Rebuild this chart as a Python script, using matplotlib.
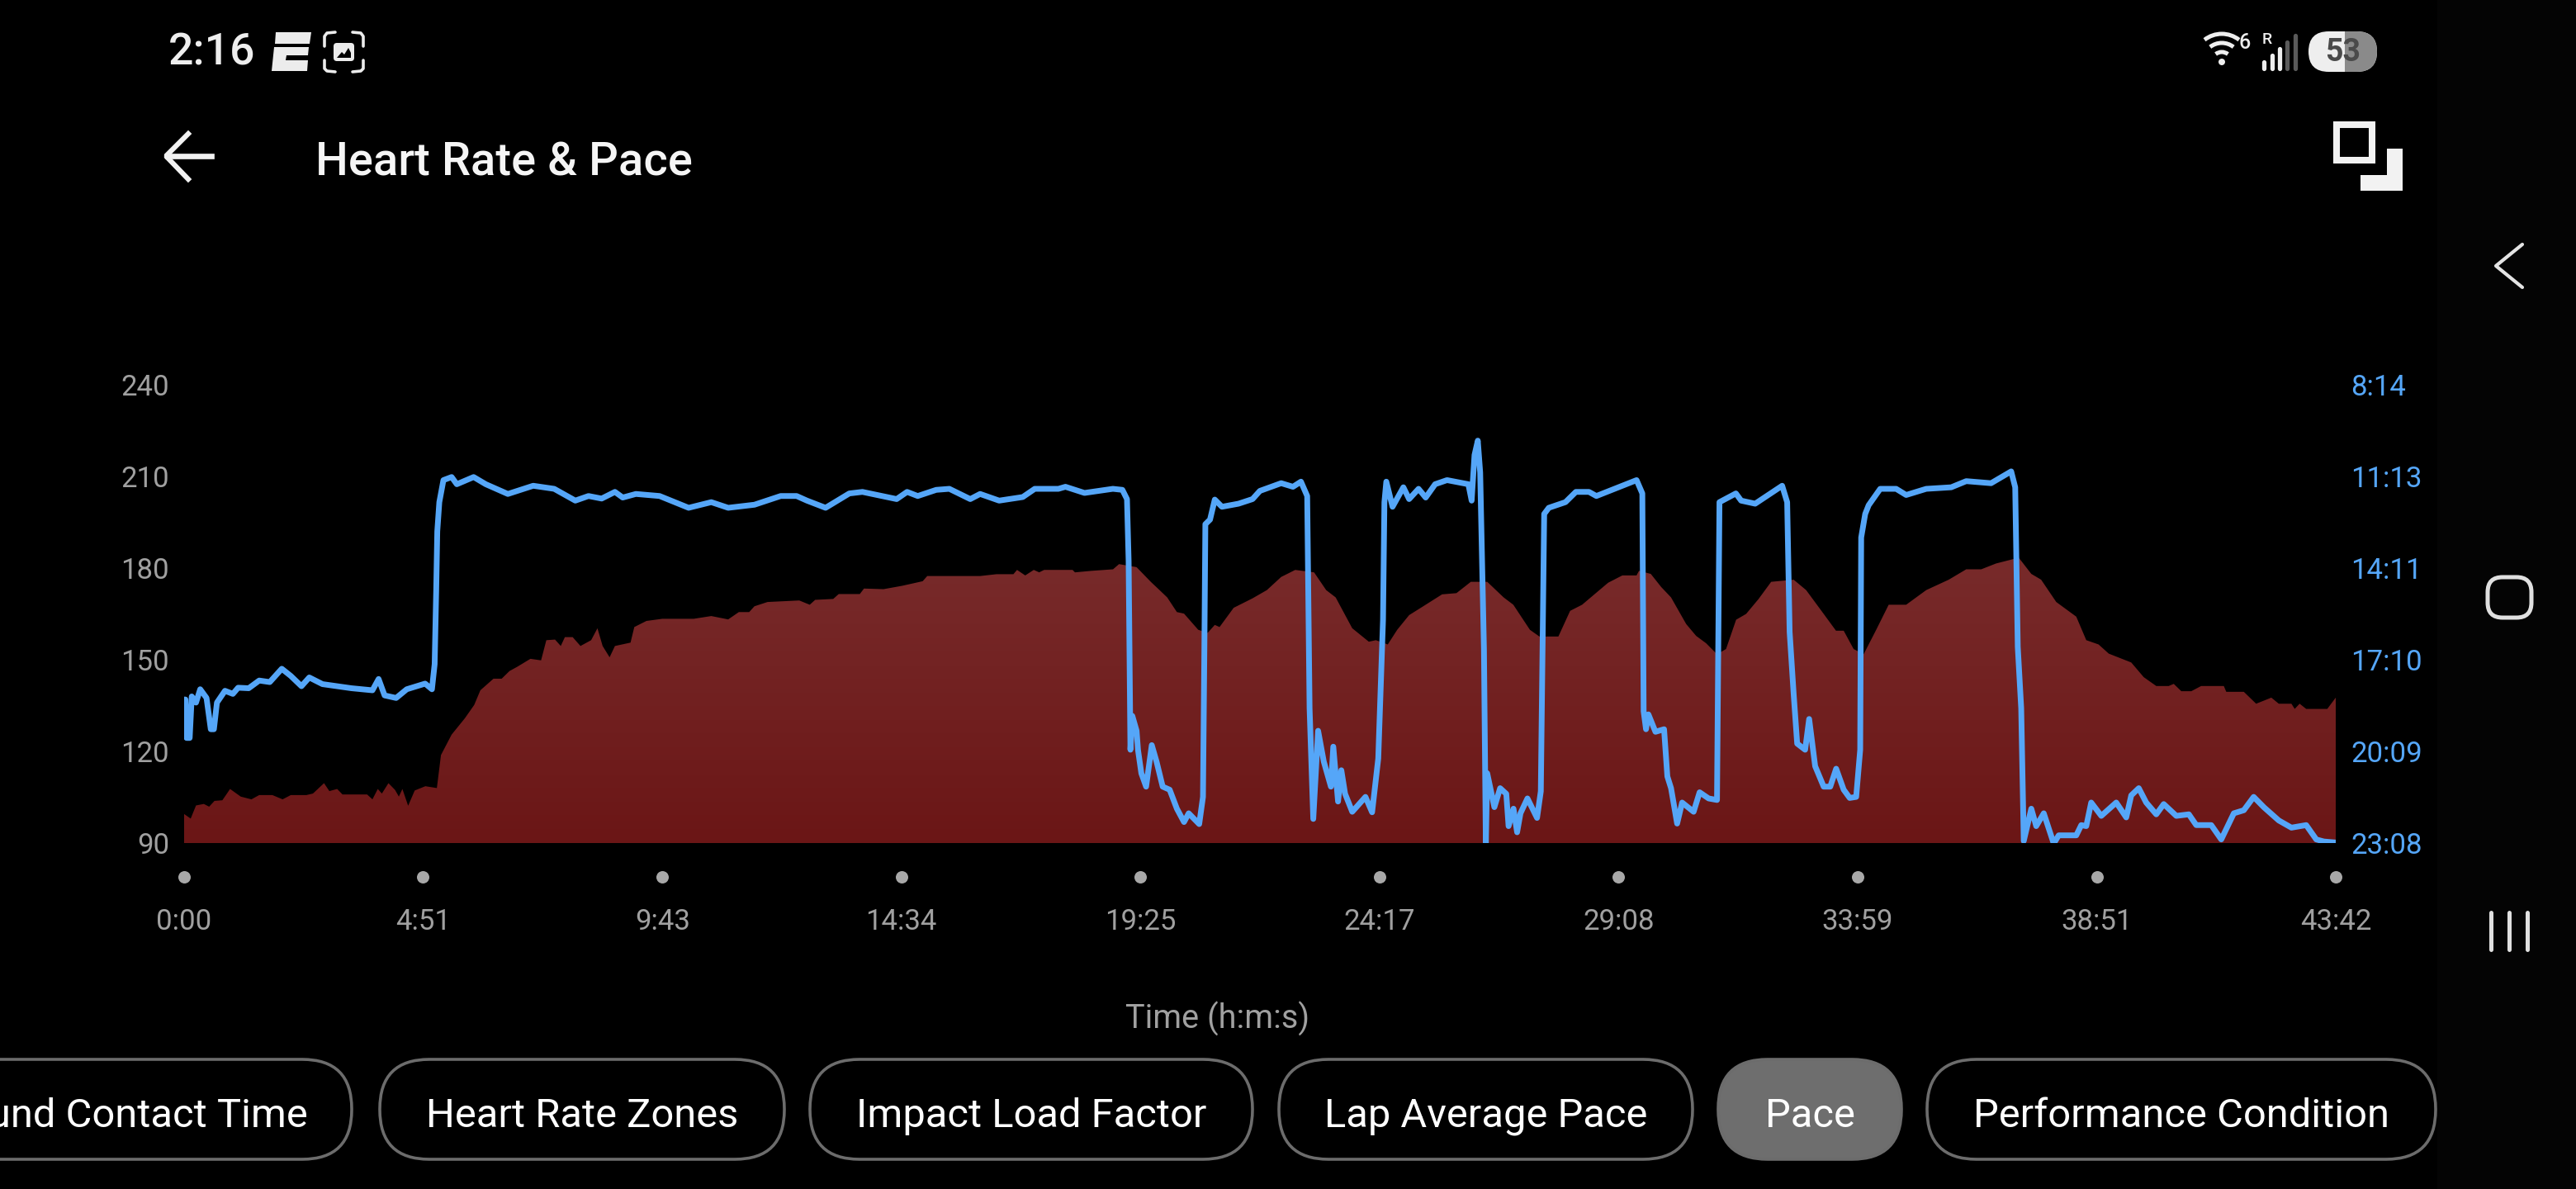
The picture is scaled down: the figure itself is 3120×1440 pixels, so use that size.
import numpy as np
import matplotlib
matplotlib.use("Agg")
import matplotlib.pyplot as plt
from matplotlib.patches import FancyBboxPatch, Polygon, Arc, Rectangle, Circle

plt.rcParams['font.family'] = ['Roboto', 'DejaVu Sans']

# heart rate (seconds, bpm)
hr_time = [0, 8, 14.5, 24, 30.5, 37, 46.6, 56, 69, 82, 91.5, 107.6, 120, 130, 149, 157, 170.5, 177, 186.5, 193,
           223, 229.5, 236, 241, 249, 257, 261.7, 266, 273, 281, 294, 308, 313, 326, 342, 353.5, 361, 377, 387, 396.5,
           406, 422, 435, 441.4, 452, 459, 464, 473.5, 483, 496, 503.7, 510, 518.5, 525, 544, 548.6, 563.4, 582.7, 621, 642.4,
           663, 676, 688.6, 695, 711, 749.6, 762.4, 769, 791, 797.7, 823.4, 828.5, 852.3, 875, 900, 905.6, 963,
           970, 990, 1010.6, 1015, 1025, 1035.4, 1042, 1048, 1082.7, 1085.6, 1105.9, 1132, 1139.3, 1160.7, 1178, 1186.7, 1198, 1209.8, 1218.5,
           1235.8, 1247.3, 1256, 1261.8, 1279, 1302, 1319.5, 1336.9, 1354, 1377, 1391.7, 1403.3, 1423.5, 1443.7, 1452.3, 1466.8, 1478.3, 1492.8,
           1510, 1533, 1550.5, 1568, 1588, 1608, 1619.8, 1640, 1651.6, 1674.7, 1689, 1703.6, 1735.3, 1752.7, 1770, 1772.9, 1787.3,
           1800, 1812, 1830.4, 1842.6, 1854.7, 1868, 1879, 1891.3, 1903.5, 1918.7, 1934, 1961.4, 1976.6, 1998, 2013, 2022.4, 2034.5, 2046.7,
           2062, 2077.2, 2098.5, 2123, 2150.4, 2171.7, 2190, 2208, 2235.7, 2251, 2263, 2281.4, 2305.8, 2318, 2333, 2345.4, 2372.8, 2388,
           2403.3, 2418.5, 2424.6, 2433.8, 2446, 2458, 2485.6, 2488.6, 2510, 2525, 2534.3, 2543.5, 2552.6, 2568, 2572, 2578, 2586, 2611.7, 2622]
hr_bpm = [99.5, 98, 102.3, 102.8, 101.9, 103.8, 104, 107.7, 105.2, 104.3, 105.7, 105.7, 104.3, 105.7, 105.7, 106.2, 109.6, 107, 107.7, 105.9,
          105.9, 104.3, 107.7, 106.2, 109.6, 107.4, 105.2, 107.7, 102.2, 107.2, 108.6, 108, 118.8, 125.5, 130.8, 135.2, 140, 143.8, 143.8, 146.3,
          147.7, 150.3, 149.8, 156.4, 156.6, 154.5, 157.4, 157.4, 154.5, 156.4, 160.3, 154.5, 150.8, 154.5, 155.6, 160.7, 162.7, 163.4, 163.4, 164.3,
          163.2, 165.6, 165.6, 167.5, 168.9, 169.4, 168, 169.6, 169.9, 171.5, 171.5, 173.3, 173.1, 174.2, 175.7, 177.4, 177.4,
          177.4, 178, 178, 179.4, 177.6, 179.4, 178.6, 179.4, 179.4, 178.6, 179.1, 179.6, 181.3, 180.3, 175.5, 173.3, 170.4, 165.6, 165.1,
          159.8, 158.8, 161.4, 160.7, 167, 170.1, 172.8, 177.1, 179.4, 178.6, 172.8, 170.4, 160.3, 155.9, 156.4, 155, 159.8, 164.6,
          167.5, 171.4, 171.8, 175.5, 175.5, 170.4, 168, 159.8, 157.6, 157.6, 166, 168, 175.2, 177.6, 177.6, 179.1, 178.1,
          173.8, 170.4, 161.7, 157.8, 155.4, 151.8, 153.5, 163.1, 165, 169.9, 175.5, 176.2, 172.8, 165, 159.5, 159.5, 153.5, 151.8,
          159.8, 168, 168, 172.8, 176.2, 179.6, 179.6, 181.5, 183.4, 178.1, 176.2, 168.9, 164.1, 156.4, 155, 152, 149.1, 144.3,
          141.4, 141.4, 142.1, 139.7, 139.7, 141.4, 141.4, 139.5, 139.5, 135.6, 136.6, 137.6, 135.6, 135.6, 133.9, 135.6, 133.9, 133.9, 137.6]

# pace (seconds, seconds per unit)
pace_time = [0, 1.6, 3, 6.8, 9.3, 14.5, 19.6, 27.3, 32.5, 36.3, 40, 49.8, 59.4, 65.8, 78.7, 91.5, 104.4, 119, 130, 143,
             152.5, 168.6, 203.9, 229.5, 237, 244.3, 258.4, 271.3, 293.7, 302, 305.3, 307.2, 308.5, 311, 316, 326, 332.3, 352.8, 367.6, 394.5,
             425.4, 451, 476.7, 492.8, 508.8, 525, 534.5, 550.5, 579.4, 614.8, 642.4, 663, 695, 727, 746.4, 759, 781.7, 810.6, 826.6, 868.3,
             881, 894, 916.5, 932.5, 958, 970, 993.2, 1022, 1036.6, 1065.4, 1074, 1097.2, 1131.8, 1143.4, 1149, 1151, 1152, 1153.2, 1155.5, 1160.7,
             1162.4, 1166.5, 1172.3, 1179.2, 1185, 1192.5, 1201, 1209.8, 1218.5, 1224.2, 1237, 1241.6, 1243.3, 1244.5, 1250.2, 1256, 1264.7, 1284.9, 1302, 1311,
             1336.9, 1351.3, 1361, 1368.6, 1371.5, 1376, 1381.9, 1388.8, 1397.5, 1400.4, 1406.2, 1410.2, 1414.8, 1423.5, 1439.6, 1447.7, 1455.2, 1461, 1462.7, 1465,
             1472.6, 1485.8, 1492.8, 1504.3, 1513, 1524.5, 1539, 1565, 1569, 1572.5, 1576.5, 1579.4, 1584, 1586.3, 1588, 1596.7, 1603.7, 1611.2, 1614, 1620,
             1624.4, 1628.5, 1637, 1648.7, 1653.3, 1657.4, 1663, 1683.3, 1696, 1712, 1721, 1770, 1777, 1778.6, 1781.5, 1784.4, 1793, 1803.5,
             1807.5, 1812, 1819.4, 1825.5, 1839.5, 1846.8, 1857.8, 1868, 1871, 1891, 1897.4, 1914.5, 1947.4, 1953.5, 1956.5, 1961.4, 1965.7, 1975.4, 1980.3, 1987.6,
             1998, 2006, 2013.2, 2022.4, 2029.7, 2037.6, 2042.5, 2043.7, 2048.6, 2052.8, 2066.9, 2086.3, 2098.5, 2123, 2153.4, 2171.7, 2202, 2226.5, 2231.4, 2234.5,
             2238.7, 2241.8, 2251, 2257, 2266.2, 2278.3, 2284.4, 2305.8, 2311.9, 2318, 2324, 2336.3, 2354.5, 2366.7, 2372.8, 2382, 2391, 2403.3, 2412.4, 2427.7,
             2443, 2452, 2470.3, 2482.5, 2497.8, 2510, 2522, 2534.3, 2552.6, 2568, 2586, 2598.3, 2607.5, 2622]
pace_sec = [1108, 1108, 1183, 1183, 1102, 1114, 1088, 1105, 1166, 1166, 1114, 1091, 1097, 1085, 1086, 1071, 1074, 1048, 1062, 1082,
            1065, 1078, 1086, 1090, 1068, 1100, 1105, 1088, 1077, 1088, 1039, 895, 780, 723, 680, 674, 688, 674, 688, 707,
            691, 697, 720, 711, 716, 703, 714, 707, 711, 734, 723, 734, 728, 711, 711, 720, 734, 706, 703, 717,
            703, 711, 699, 697, 717, 707, 720, 713, 697, 697, 693, 705, 697, 699, 717, 838, 1010, 1206, 1140, 1169,
            1206, 1252, 1278, 1197, 1229, 1278, 1284, 1321, 1347, 1330, 1351, 1298, 1010, 766, 757, 718, 732, 726, 717, 701,
            686, 693, 683, 711, 1125, 1341, 1169, 1229, 1278, 1200, 1307, 1246, 1292, 1327, 1298, 1328, 1223, 953, 723, 683,
            732, 694, 717, 697, 714, 688, 680, 688, 720, 631, 603, 665, 1010, 1389, 1252, 1318, 1281, 1292, 1355, 1321,
            1367, 1330, 1301, 1339, 1287, 746, 734, 723, 703, 703, 711, 680, 706, 1131, 1166, 1137, 1171, 1166,
            1258, 1281, 1350, 1309, 1327, 1289, 1301, 1304, 723, 706, 720, 726, 691, 723, 976, 1097, 1194, 1206, 1146, 1238,
            1278, 1278, 1243, 1284, 1300, 1298, 1206, 792, 746, 729, 697, 697, 709, 697, 694, 682, 686, 663, 694, 1005,
            1125, 1384, 1321, 1355, 1330, 1389, 1373, 1373, 1353, 1355, 1309, 1335, 1309, 1338, 1295, 1281, 1309, 1332, 1312, 1335,
            1332, 1353, 1353, 1381, 1330, 1324, 1298, 1318, 1344, 1358, 1353, 1381, 1385, 1387]

x_ticks = [0, 291, 583, 874, 1165, 1457, 1748, 2039, 2331, 2622]
x_labels = ["0:00", "4:51", "9:43", "14:34", "19:25", "24:17", "29:08", "33:59", "38:51", "43:42"]
hr_ticks = [90, 120, 150, 180, 210, 240]
pace_ticks = [1388, 1209, 1030, 851, 673, 494]
pace_labels = ["23:08", "20:09", "17:10", "14:11", "11:13", "8:14"]

chips = ["Heart Rate Zones", "Impact Load Factor", "Lap Average Pace", "Pace", "Performance Condition"]
chip_left = [460, 981, 1549, 2081, 2334]
chip_right = [950, 1517, 2050, 2303, 2950]

W, H = 3120, 1440
GREY = "#a0a0a0"
BLUE = "#55a6f8"
ICON = "#f2f2f2"

fig = plt.figure(figsize=(W / 100, H / 100), dpi=100, facecolor="black")

# full figure axes in pixels for the phone screen bits
ui = fig.add_axes([0, 0, 1, 1])
ui.set_xlim(0, W)
ui.set_ylim(H, 0)
ui.axis("off")

# chart
left, right, top, bottom = 223, 2829, 466, 1021
ax = fig.add_axes([left / W, 1 - bottom / H, (right - left) / W, (bottom - top) / H])
ax.patch.set_alpha(0)
poly = ax.fill_between(hr_time, hr_bpm, 90, facecolor="none", edgecolor="none")
grad = np.linspace(0, 1, 256).reshape(-1, 1)
cmap = matplotlib.colors.LinearSegmentedColormap.from_list("hr", ["#6b1616", "#782b2b"])
im = ax.imshow(grad, extent=[0, 2622, 90, 184], origin="lower", aspect="auto", cmap=cmap, zorder=1)
im.set_clip_path(poly.get_paths()[0], transform=ax.transData)
ax.set_xlim(0, 2622)
ax.set_ylim(90, 240)
ax.set_yticks(hr_ticks)
ax.set_xticks(x_ticks)
ax.set_xticklabels(x_labels)
ax.tick_params(axis="y", length=0, pad=13, labelsize=25, labelcolor=GREY)
ax.tick_params(axis="x", length=0, pad=57, labelsize=25, labelcolor=GREY)
for s in ax.spines.values():
    s.set_visible(False)
ax.plot(x_ticks, [-0.0739] * len(x_ticks), "o", ms=10.8, color="#a8a8a8", mew=0,
        transform=ax.get_xaxis_transform(), clip_on=False)

ax2 = ax.twinx()
ax2.patch.set_alpha(0)
ax2.plot(pace_time, pace_sec, color=BLUE, lw=5, solid_joinstyle="round", zorder=3)
ax2.set_ylim(1388, 494)
ax2.set_yticks(pace_ticks)
ax2.set_yticklabels(pace_labels)
ax2.tick_params(axis="y", length=0, pad=13, labelsize=25, labelcolor=BLUE)
for s in ax2.spines.values():
    s.set_visible(False)

ui.text(1475, 1234, "Time (h:m:s)", color=GREY, fontsize=28.5, ha="center", va="center")

# chips
ui.add_patch(FancyBboxPatch((-200, 1283), 626, 121, boxstyle="round,pad=0,rounding_size=60",
                            fc="none", ec="#6c6c6c", lw=2.6))
ui.text(373, 1352, "Ground Contact Time", color="white", fontsize=35.2, ha="right", va="center")
for name, x0, x1 in zip(chips, chip_left, chip_right):
    fc = "#6e6e6e" if name == "Pace" else "none"
    ui.add_patch(FancyBboxPatch((x0, 1283), x1 - x0, 121, boxstyle="round,pad=0,rounding_size=60",
                                fc=fc, ec="#6c6c6c", lw=2.6))
    ui.text((x0 + x1) / 2, 1352, name, color="white", fontsize=35.2, ha="center", va="center")

# header
ui.text(382, 197, "Heart Rate & Pace", color="#f5f5f5", fontsize=40.4, fontweight="medium", va="center")
ui.plot([228, 201, 228], [162, 189, 217], color=ICON, lw=4.4, solid_joinstyle="bevel")
ui.plot([203, 256], [189, 189], color=ICON, lw=4.8)
ui.add_patch(Rectangle((2830, 151), 43, 43, fc="none", ec=ICON, lw=5.8))
ui.add_patch(Polygon([(2891, 180), (2910, 180), (2910, 231), (2859, 231), (2859, 212), (2891, 212)], fc=ICON, ec="none"))

# status bar
ui.text(204, 64, "2:16", color="#eeeeee", fontsize=38.5, fontweight="medium", va="center")
ui.add_patch(Polygon([(334, 39), (377, 39), (375, 53), (333, 53)], fc="#ececec", ec="none"))
ui.add_patch(Polygon([(332, 57), (374, 57), (373, 67), (347, 67), (346, 73), (373, 73), (372, 86), (329, 86)], fc="#ececec", ec="none"))
for xs, ys in [([393, 393, 396, 406], [56, 44, 40, 39]), ([427, 437, 440, 440], [39, 40, 44, 56]),
               ([393, 393, 396, 406], [73, 83, 86, 87]), ([427, 437, 440, 440], [87, 86, 83, 73])]:
    ui.plot(xs, ys, color="#ececec", lw=2.6, solid_capstyle="round")
ui.add_patch(FancyBboxPatch((404, 52), 25, 22, boxstyle="round,pad=0,rounding_size=4", fc="#ececec", ec="none"))
ui.add_patch(Polygon([(408, 70), (414, 63), (417, 66), (422, 58), (425, 64), (425, 70)], fc="black", ec="none"))

for r in [12, 23, 34]:
    ui.add_patch(Arc((2691, 75), 2 * r, 2 * r, theta1=232, theta2=308, color="#eeeeee", lw=3.6))
ui.add_patch(Circle((2691, 75), 4, fc="#eeeeee", ec="none"))
ui.text(2719, 52, "6", color="#eeeeee", fontsize=18, fontweight="medium", ha="center", va="center")
ui.text(2746, 48, "R", color="#eeeeee", fontsize=14, fontweight="medium", ha="center", va="center")
for bx, by, bc in zip([2742, 2752, 2761, 2770, 2780], [73, 65, 57, 49, 41],
                      ["#eeeeee", "#eeeeee", "#eeeeee", "#5a5a5a", "#5a5a5a"]):
    ui.plot([bx, bx], [by + 2, 83], color=bc, lw=3.8, solid_capstyle="round")
pill = FancyBboxPatch((2796, 38), 83, 49, boxstyle="round,pad=0,rounding_size=24.5", fc="#eeeeee", ec="none")
ui.add_patch(pill)
right_half = Rectangle((2840, 30), 45, 60, fc="#8a8a8a", ec="none")
ui.add_patch(right_half)
right_half.set_clip_path(pill)
ui.text(2838, 64, "53", color="#4a4a4a", fontsize=27, fontweight="bold", ha="center", va="center")

# nav panel
ui.add_patch(Rectangle((2952, 0), 168, 1440, fc="#040404", ec="none", zorder=0))
ui.plot([3055, 3023, 3055], [296, 322, 348], color="#e4e4e4", lw=3, solid_capstyle="round")
ui.add_patch(FancyBboxPatch((3013, 699), 53, 49, boxstyle="round,pad=0,rounding_size=18", fc="none", ec="#e0e0e0", lw=3.6))
for bx in [3017, 3039, 3061]:
    ui.plot([bx, bx], [1105, 1150], color="#e0e0e0", lw=3.6, solid_capstyle="round")

fig.savefig("out.png", dpi=100, facecolor="black")
